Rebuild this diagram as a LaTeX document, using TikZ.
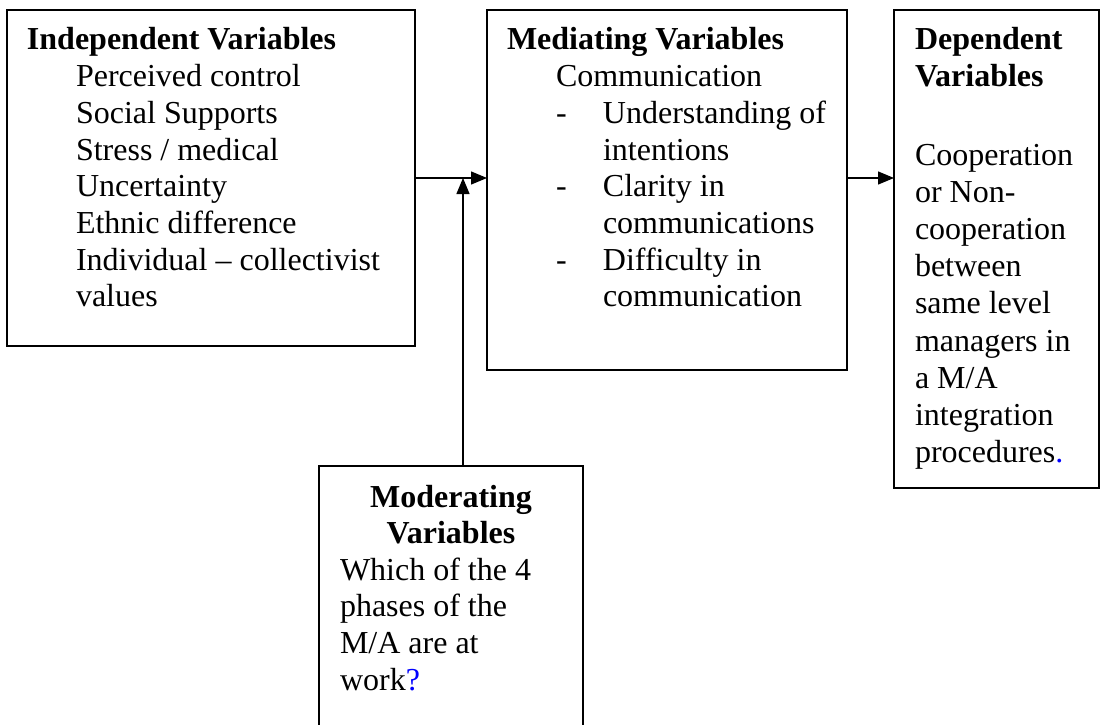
\documentclass[tikz,border=0pt]{standalone}
\usepackage{fontspec}
\setmainfont{Liberation Serif}
\usetikzlibrary{arrows.meta}
\begin{document}
\begin{tikzpicture}[x=1pt,y=-1pt,
  box/.style={draw, line width=1.6pt, inner sep=0pt, outer sep=0pt},
  txt/.style={inner sep=0pt, outer sep=0pt, anchor=base west, align=left, font=\fontsize{32}{36.7}\selectfont},
  ctxt/.style={inner sep=0pt, outer sep=0pt, anchor=base, align=center, font=\fontsize{32}{36.7}\selectfont},
  conn/.style={line width=1.3pt, -{Triangle[length=16pt,width=13pt]}}
]
\useasboundingbox (0,0) rectangle (1101,725);
\clip (0,0) rectangle (1101,725);
% boxes
\node[box, minimum width=408pt, minimum height=336pt] (ind) at (211,178) {};
\node[box, minimum width=360pt, minimum height=360pt] (med) at (667,190) {};
\node[box, minimum width=205pt, minimum height=478pt] (dep) at (996.5,249) {};
\node[box, minimum width=264pt, minimum height=300pt] (mod) at (451,616) {};
% independent (base anchor = baseline of last line)
\node[txt] (indT) at (27,50) {\textbf{Independent Variables}};
\node[txt] (indB) at (76,306.9) {Perceived control\\Social Supports\\Stress / medical\\Uncertainty\\Ethnic difference\\Individual – collectivist\\values};
% mediating
\node[txt] (medT) at (507,50) {\textbf{Mediating Variables}};
\node[txt] (medB) at (556,306.9) {Communication\\
\makebox[47pt][l]{-}Understanding of\\
\makebox[47pt][l]{}intentions\\
\makebox[47pt][l]{-}Clarity in\\
\makebox[47pt][l]{}communications\\
\makebox[47pt][l]{-}Difficulty in\\
\makebox[47pt][l]{}communication};
% dependent
\node[txt] (depT) at (915,86.7) {\textbf{Dependent}\\\textbf{Variables}};
\node[txt, font=\fontsize{32}{37.2}\selectfont] (depB) at (915,462.6) {Cooperation\\or Non-\\cooperation\\between\\same level\\managers in\\a M/A\\integration\\procedures\textcolor{blue}{.}};
% moderating
\node[ctxt] (modT) at (451,543.7) {\textbf{Moderating}\\\textbf{Variables}};
\node[txt] (modB) at (340,690.1) {Which of the 4\\phases of the\\M/A are at\\work\textcolor{blue}{?}};
% connectors
\draw[conn] (ind.east) -- (med.west |- ind.east);
\draw[conn] (med.east |- ind.east) -- (dep.west |- ind.east);
\coordinate (modtop) at ([xshift=12pt]mod.north);
\draw[conn] (modtop) -- (modtop |- ind.east);
\end{tikzpicture}
\end{document}
